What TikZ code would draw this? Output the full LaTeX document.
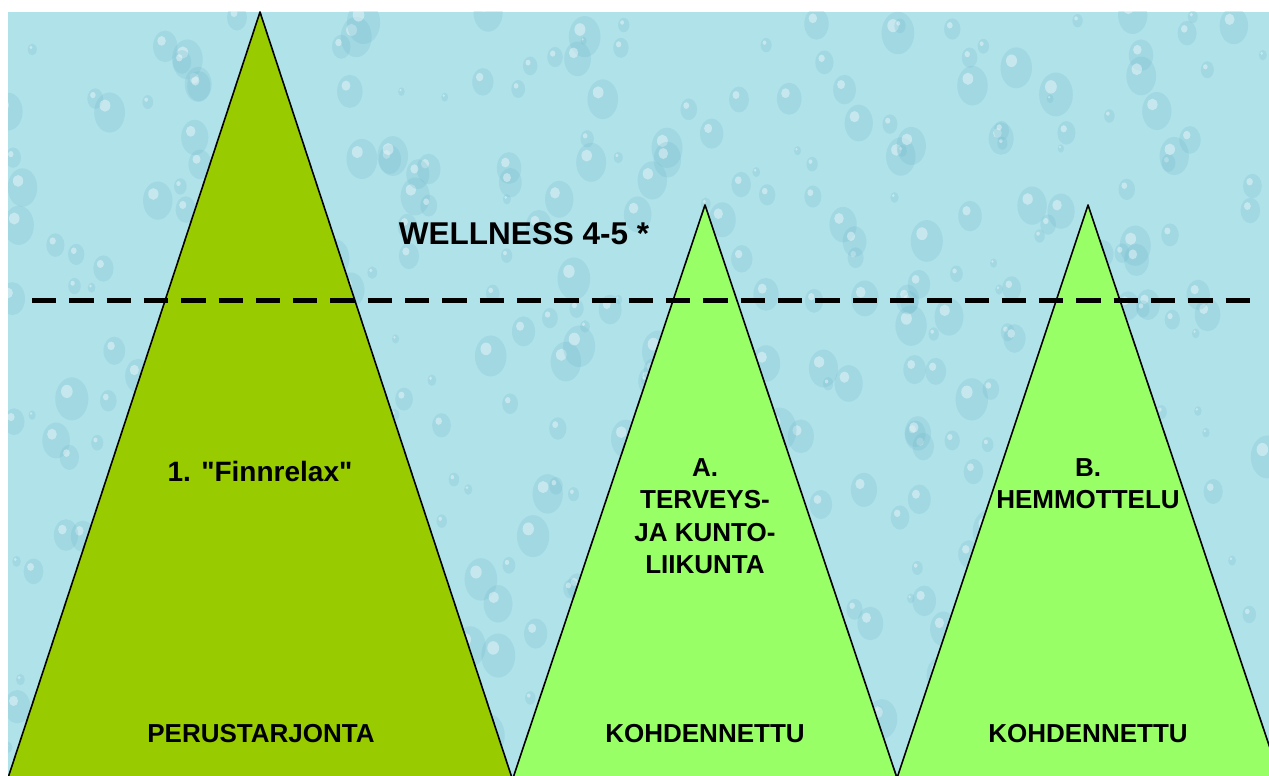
\documentclass[tikz,border=0pt]{standalone}
\usepackage{fontspec}
\setmainfont{Liberation Sans}
\usepackage{xcolor}
\usepackage{tikz}
\usetikzlibrary{positioning}

\definecolor{waterbg}{RGB}{176,226,234}
\definecolor{dropshade}{RGB}{118,188,206}
\definecolor{basegreen}{RGB}{153,204,0}
\definecolor{targetgreen}{RGB}{153,255,102}

\begin{document}
\begin{tikzpicture}[x=1pt, y=-1pt, node distance = 13.4pt]
            \tikzstyle{peak} = [draw=black, line width=1.6pt, line join=round]
            \tikzstyle{lbl} = [inner sep=0pt, text height=18.6pt, text depth=0pt, font=\fontsize{26}{30}\selectfont\bfseries]
            \useasboundingbox (0,0) rectangle (1269,776);
            \fill[white] (0,0) rectangle (1269,776);

            % water background
            \begin{scope}
                \clip (8,12) rectangle (1269,776);
                \fill[waterbg] (8,12) rectangle (1269,776);
                \pgfmathsetseed{7}
                \foreach \i in {1,...,420} {
                    \pgfmathsetmacro{\dx}{8+1261*rnd}
                    \pgfmathsetmacro{\dy}{12+764*rnd}
                    \pgfmathsetmacro{\dr}{3+14*rnd}
                    \fill[dropshade, opacity=0.25] (\dx,\dy) ellipse ({\dr} and {1.3*\dr});
                    \fill[white, opacity=0.4] (\dx-0.3*\dr,\dy-0.45*\dr) ellipse ({0.35*\dr} and {0.4*\dr});
                }

                \draw[peak, fill=basegreen] (8,778) -- (260,12) -- (512,778) -- cycle;
                \draw[peak, fill=targetgreen] (513,778) -- (705,205) -- (897,778) -- cycle;
                \draw[peak, fill=targetgreen] (897,778) -- (1088,205) -- (1280,778) -- cycle;
            \end{scope}

            \draw[line width=5pt, dash pattern=on 24.3pt off 13pt] (32,300) -- (1250,300);

            \node[inner sep=0pt, text height=22.5pt, text depth=0pt, font=\fontsize{31.5}{36}\selectfont\bfseries] (wellness) at (524,233) {WELLNESS 4-5 *};
            \node[lbl, text height=20pt, font=\fontsize{28}{32}\selectfont\bfseries] (finn) at (260,471) {1. \textquotedbl Finnrelax\textquotedbl};

            \node[lbl] (A1) at (705,467) {A.};
            \node[lbl, below = of A1] (A2) {TERVEYS-};
            \node[lbl, below = of A2] (A3) {JA KUNTO-};
            \node[lbl, below = of A3] (A4) {LIIKUNTA};

            \node[lbl] (B1) at (1088,467) {B.};
            \node[lbl, below = of B1] (B2) {HEMMOTTELU};

            \node[lbl] (base) at (261,733) {PERUSTARJONTA};
            \node[lbl] (targA) at (705,733) {KOHDENNETTU};
            \node[lbl] (targB) at (1088,733) {KOHDENNETTU};
        \end{tikzpicture}
\end{document}
